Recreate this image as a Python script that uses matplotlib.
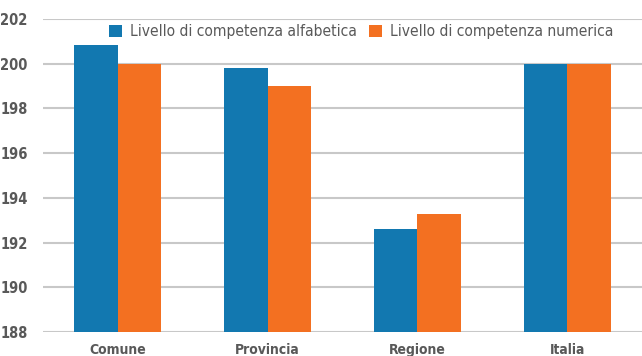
import matplotlib.pyplot as plt
import numpy as np

plt.rcParams['font.family'] = ['DejaVu Sans']
plt.rcParams['font.stretch'] = 'condensed'

categorie = ["Comune", "Provincia", "Regione", "Italia"]
alfabetica = [200.85, 199.8, 192.6, 200.0]
numerica = [200.0, 199.0, 193.3, 200.0]

blu = "#1278b0"
arancio = "#f37021"
grigio = "#595959"

fig = plt.figure(figsize=(6.42, 3.56), dpi=100)
ax = fig.add_axes([43 / 642, 24 / 356, 599 / 642, 313 / 356])

x = np.arange(len(categorie))
w = 0.29
ax.bar(x - w / 2, alfabetica, w, color=blu, label="Livello di competenza alfabetica", zorder=3)
ax.bar(x + w / 2, numerica, w, color=arancio, label="Livello di competenza numerica", zorder=3)

ax.set_ylim(188, 202)
ax.set_xlim(-0.5, 3.5)
ax.set_yticks(np.arange(188, 203, 2))
ax.yaxis.grid(True, color="#c8c8c8", lw=1.5, zorder=0)
ax.set_xticks(x)
ax.set_xticklabels(categorie, fontsize=10, fontweight="bold", color=grigio)
for lab in ax.get_yticklabels():
    lab.set_fontsize(10.5)
    lab.set_fontweight("bold")
    lab.set_color(grigio)
ax.tick_params(axis="x", length=0, pad=8)
ax.tick_params(axis="y", length=0, pad=11)
for s in ax.spines.values():
    s.set_visible(False)

ax.legend(loc="upper left", bbox_to_anchor=(0.1, 1.003), ncol=2, frameon=False,
          fontsize=11.2, labelcolor=grigio, handlelength=0.8, handleheight=0.75,
          handletextpad=0.55, columnspacing=0.8, borderaxespad=0.0)

fig.savefig("out.png")
